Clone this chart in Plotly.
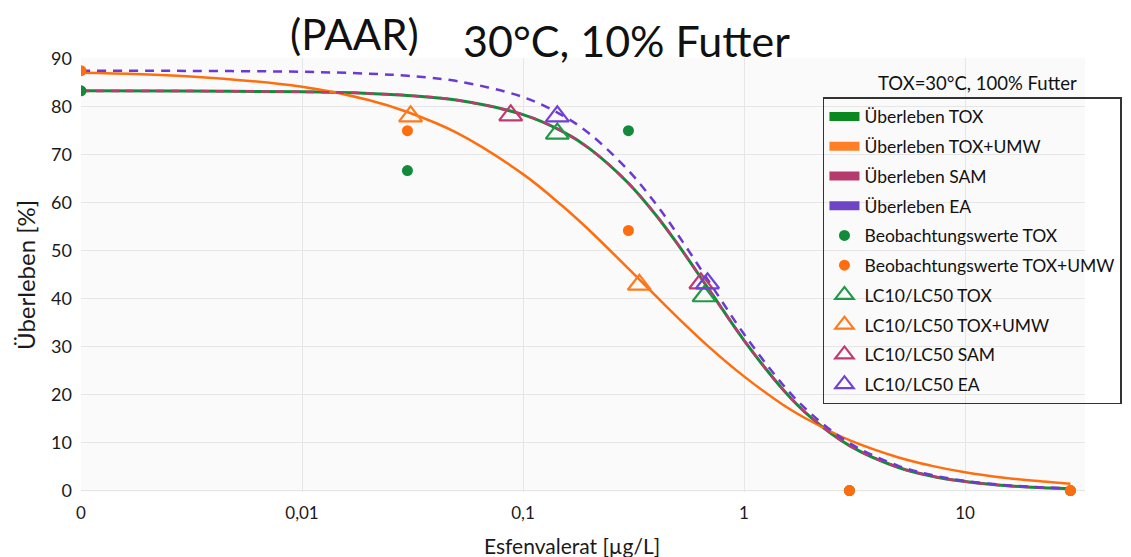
import plotly.graph_objects as go

# ---- data ----
conc = [0.001, 0.003, 0.01, 0.02, 0.03, 0.05, 0.1, 0.15, 0.2, 0.3, 0.4, 0.5,
        0.7, 1, 1.5, 2, 3, 5, 7, 10, 15, 20, 30]
surv_tox = [83.3, 83.26, 83.1, 82.77, 82.36, 81.38, 78.35, 74.9, 71.27, 64.06, 57.39, 51.42,
            41.65, 31.32, 21.08, 15.31, 9.37, 4.81, 3.05, 1.87, 1.06, 0.71, 0.40]
surv_umw = [87.08, 86.35, 84.15, 81.4, 78.9, 74.6, 65.95, 59.4, 54.2, 46.25, 40.5, 36.1,
            29.8, 23.8, 17.9, 14.5, 10.5, 6.9, 5.2, 3.8, 2.66, 2.1, 1.43]
surv_sam = [83.3, 83.26, 83.1, 82.77, 82.36, 81.38, 78.35, 74.9, 71.27, 64.06, 57.39, 51.42,
            41.65, 31.32, 21.08, 15.31, 9.37, 4.81, 3.05, 1.87, 1.06, 0.71, 0.40]
surv_ea = [87.49, 87.46, 87.27, 86.89, 86.43, 85.34, 82.01, 78.26, 74.36, 66.71, 59.68, 53.45,
           43.31, 32.62, 22.06, 16.09, 9.91, 5.15, 3.29, 2.03, 1.16, 0.78, 0.44]

obs_conc = [0.001, 0.03, 0.3, 3, 30]
obs_tox = [83.3, 66.7, 75.0, 0, 0]
obs_umw = [87.5, 75.0, 54.2, 0, 0]

lc_tox_x, lc_tox_y = [0.143, 0.66], [74.4, 40.5]
lc_umw_x, lc_umw_y = [0.031, 0.336], [78.0, 42.9]
lc_sam_x, lc_sam_y = [0.088, 0.638], [78.2, 43.2]
lc_ea_x, lc_ea_y = [0.143, 0.684], [78.0, 43.2]

x_tickvals = [0.001, 0.01, 0.1, 1, 10]
x_ticktext = ["0", "0,01", "0,1", "1", "10"]
y_tickvals = [0, 10, 20, 30, 40, 50, 60, 70, 80, 90]

GREEN = "#178a3a"
ORANGE = "#ff6e0e"
SAM = "#bd3a6e"
EA = "#6c3ad2"
FONT = "Lato, 'Open Sans', sans-serif"

# page body has an 8px margin: plot area in window = x 81..1085, y 58..492
OFF = 8
ML, MT = 81 - OFF, 58 - OFF
PR, PB = 1085 - OFF, 492 - OFF
W, H = 1131, 557
MR, MB = W - PR, H - PB
PW, PH = PR - ML, PB - MT


def px_x(xw):
    return (xw - OFF - ML) / PW


def px_y(yw):
    return (PB - (yw - OFF)) / PH


fig = go.Figure()

fig.add_trace(go.Scatter(x=conc, y=surv_tox, mode="lines", line=dict(color=GREEN, width=3, shape="spline"),
                         showlegend=False, hoverinfo="skip"))
fig.add_trace(go.Scatter(x=conc, y=surv_umw, mode="lines", line=dict(color=ORANGE, width=2.5, shape="spline"),
                         showlegend=False, hoverinfo="skip"))
fig.add_trace(go.Scatter(x=conc, y=surv_sam, mode="lines",
                         line=dict(color=SAM, width=2.5, shape="spline", dash="8px,7px"),
                         showlegend=False, hoverinfo="skip"))
fig.add_trace(go.Scatter(x=conc, y=surv_ea, mode="lines",
                         line=dict(color=EA, width=2.5, shape="spline", dash="9px,7px"),
                         showlegend=False, hoverinfo="skip"))

for name, col in [("Überleben TOX", "#0a8a1e"), ("Überleben TOX+UMW", "#ff7f27"),
                  ("Überleben SAM", "#b73a6c"), ("Überleben EA", "#6f45c8")]:
    fig.add_trace(go.Scatter(x=[None], y=[None], mode="lines", name=name,
                             line=dict(color=col, width=9), legendgroup=name))

for ys, col, name in [(obs_tox, "#138a3a", "Beobachtungswerte TOX"),
                      (obs_umw, "#ff6e0e", "Beobachtungswerte TOX+UMW")]:
    fig.add_trace(go.Scatter(x=obs_conc[:1], y=ys[:1], mode="markers", showlegend=False,
                             marker=dict(color=col, size=11), cliponaxis=True))
    fig.add_trace(go.Scatter(x=obs_conc[1:], y=ys[1:], mode="markers", name=name, legendgroup=name,
                             marker=dict(color=col, size=11), cliponaxis=False))

for xs, ys, col, name in [(lc_tox_x, lc_tox_y, "#1e9a46", "LC10/LC50 TOX"),
                          (lc_umw_x, lc_umw_y, "#ff7a1a", "LC10/LC50 TOX+UMW"),
                          (lc_sam_x, lc_sam_y, "#c03a72", "LC10/LC50 SAM"),
                          (lc_ea_x, lc_ea_y, "#7040d8", "LC10/LC50 EA")]:
    fig.add_trace(go.Scatter(x=xs, y=ys, mode="markers", name=name, legendgroup=name,
                             marker=dict(symbol="triangle-up-open", size=20, color=col,
                                         line=dict(width=2.2, color=col))))

fig.update_layout(
    width=W, height=H,
    margin=dict(l=ML, r=MR, t=MT, b=MB, autoexpand=False),
    paper_bgcolor="white",
    plot_bgcolor="#fafafa",
    font=dict(family=FONT, size=17, color="#1a1a1a"),
    showlegend=True,
    legend=dict(x=0.739, y=0.91, xanchor="left", yanchor="top",
                bgcolor="rgba(255,255,255,0)", bordercolor="#333", borderwidth=1.5,
                font=dict(family=FONT, size=17.5, color="#111"),
                tracegroupgap=4),
    xaxis=dict(type="log", range=[-3, 1.543], tickvals=x_tickvals, ticktext=x_ticktext,
               showgrid=True, gridcolor="#e6e6e6", gridwidth=1, zeroline=False, showline=False,
               ticks="", ticklabelstandoff=9, automargin=False,
               tickfont=dict(family=FONT, size=17, color="#1a1a1a")),
    yaxis=dict(range=[-0.3, 90.15], tickvals=y_tickvals, showgrid=True, gridcolor="#e6e6e6",
               zeroline=False, showline=False, ticks="", ticklabelstandoff=8, automargin=False,
               tickfont=dict(family=FONT, size=18, color="#1a1a1a")),
    annotations=[
        dict(text="(PAAR)", x=px_x(354), y=px_y(34), xanchor="center", yanchor="middle",
             xref="paper", yref="paper", showarrow=False,
             font=dict(family=FONT, size=42, color="#111")),
        dict(text="30°C, 10% Futter", x=px_x(626), y=px_y(40), xanchor="center", yanchor="middle",
             xref="paper", yref="paper", showarrow=False,
             font=dict(family=FONT, size=43, color="#111")),
        dict(text="TOX=30°C, 100% Futter", x=px_x(1079), y=px_y(83), xanchor="right", yanchor="middle",
             xref="paper", yref="paper", showarrow=False,
             font=dict(family=FONT, size=18.5, color="#111")),
        dict(text="Esfenvalerat [µg/L]", x=px_x(572), y=px_y(545), xanchor="center", yanchor="middle",
             xref="paper", yref="paper", showarrow=False,
             font=dict(family=FONT, size=21, color="#1a1a1a")),
        dict(text="Überleben [%]", x=px_x(25), y=px_y(275), xanchor="center", yanchor="middle",
             textangle=-90, xref="paper", yref="paper", showarrow=False,
             font=dict(family=FONT, size=24, color="#1a1a1a")),
    ],
)

fig.write_html("out.html")
